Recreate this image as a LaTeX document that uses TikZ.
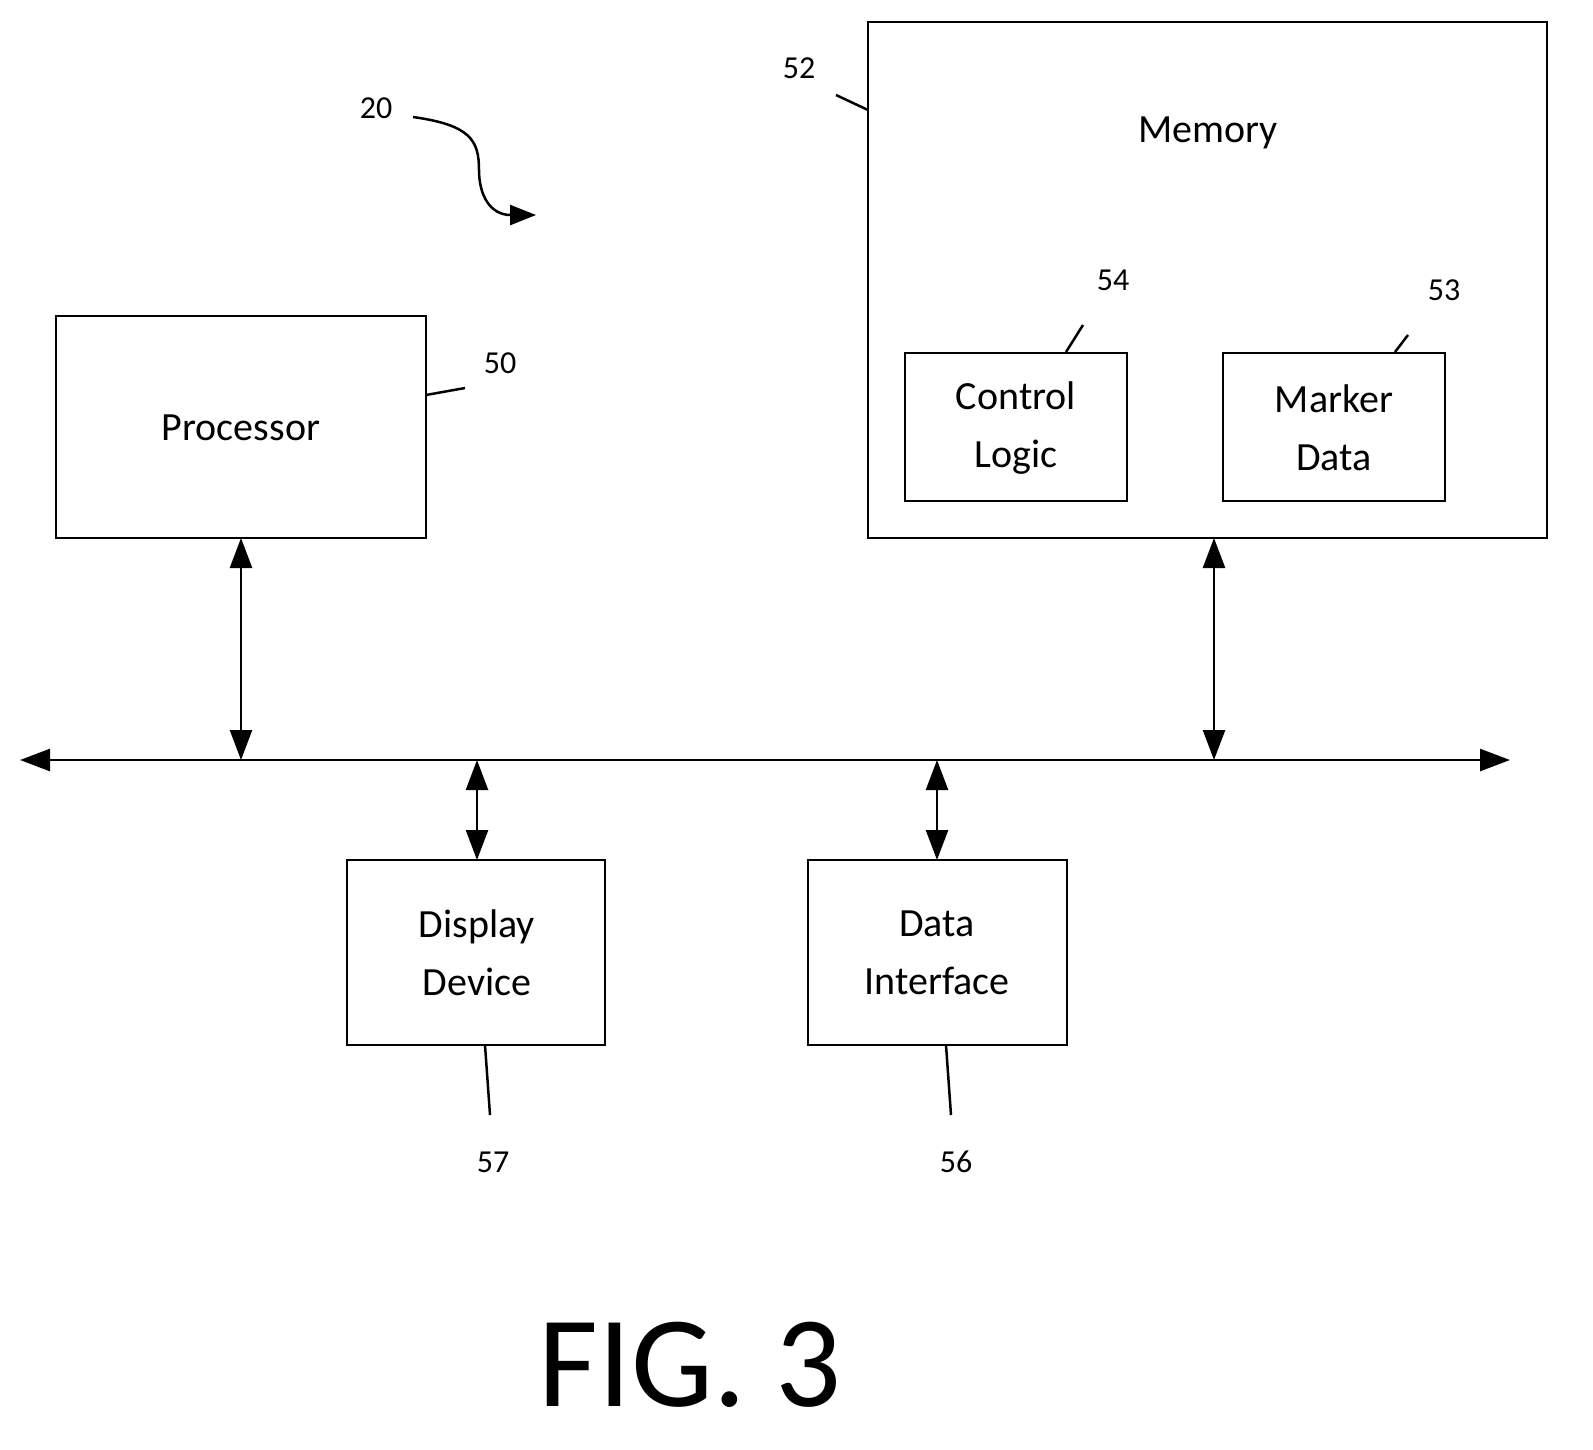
\documentclass[tikz,border=0pt]{standalone}
\usepackage{fontspec}
\setmainfont{Carlito}
\usetikzlibrary{arrows.meta}
\begin{document}
\begin{tikzpicture}[x=1pt,y=-1pt,
  box/.style={draw,line width=2.5pt,inner sep=0pt},
  txt/.style={font=\fontsize{40}{58}\selectfont,align=center},
  lbl/.style={font=\fontsize{32}{38}\selectfont},
  lead/.style={line width=2.5pt},
  dbl/.style={line width=2.5pt,{Triangle[length=30pt,width=22pt]}-{Triangle[length=30pt,width=22pt]}}]
\useasboundingbox (0,0) rectangle (1593,1449);
\draw[box] (56,316) rectangle (426,538);
\node[txt] (proc) at (241,428) {Processor};
\draw[box] (868,22) rectangle (1547,538);
\node[txt] (mem) at (1208,133) {Memory};
\draw[box] (905,353) rectangle (1127,501);
\node[txt] (cl) at (1016,428) {Control\\Logic};
\draw[box] (1223,353) rectangle (1445,501);
\node[txt] (md) at (1334,428) {Marker\\Data};
\draw[box] (347,860) rectangle (605,1045);
\node[txt] (dd) at (477,953) {Display\\Device};
\draw[box] (808,860) rectangle (1067,1045);
\node[txt] (di) at (937,953) {Data\\Interface};
% coordinates
\coordinate (bl) at (20,760); \coordinate (br) at (1510,760);
\coordinate (pb) at (241,538); \coordinate (pbus) at (241,760);
\coordinate (mb) at (1214,538); \coordinate (mbus) at (1214,760);
\coordinate (dt) at (477,860); \coordinate (dbus) at (477,760);
\coordinate (it) at (937,860); \coordinate (ibus) at (937,760);
\draw[dbl] (bl) -- (br);
\draw[dbl] (pb) -- (pbus);
\draw[dbl] (mb) -- (mbus);
\draw[dbl] (dbus) -- (dt);
\draw[dbl] (ibus) -- (it);
% labels
\node[lbl] (l50) at (500,363) {50};
\node[lbl] (l52) at (799,68) {52};
\node[lbl] (l54) at (1113,280) {54};
\node[lbl] (l53) at (1444,290) {53};
\node[lbl] (l57) at (493,1162) {57};
\node[lbl] (l56) at (956,1162) {56};
\node[lbl] (l20) at (376,108) {20};
\coordinate (a1) at (426,395); \coordinate (a2) at (465,388);
\coordinate (b1) at (836,95); \coordinate (b2) at (868,110);
\coordinate (c1) at (1066,352); \coordinate (c2) at (1083,325);
\coordinate (d1) at (1395,352); \coordinate (d2) at (1408,335);
\coordinate (e1) at (485,1045); \coordinate (e2) at (490,1115);
\coordinate (f1) at (946,1045); \coordinate (f2) at (951,1115);
\draw[lead] (a1)--(a2); \draw[lead] (b1)--(b2); \draw[lead] (c1)--(c2);
\draw[lead] (d1)--(d2); \draw[lead] (e1)--(e2); \draw[lead] (f1)--(f2);
\coordinate (g1) at (413,117); \coordinate (g2) at (479,170); \coordinate (g3) at (536,215);
\draw[lead,-{Triangle[length=26pt,width=20pt]}] (g1) .. controls (470,125) and (479,140) .. (g2)
  .. controls (479,195) and (490,215) .. (g3);
\node[font=\fontsize{130}{140}\selectfont] (fig) at (690,1365) {FIG. 3};
\end{tikzpicture}
\end{document}
